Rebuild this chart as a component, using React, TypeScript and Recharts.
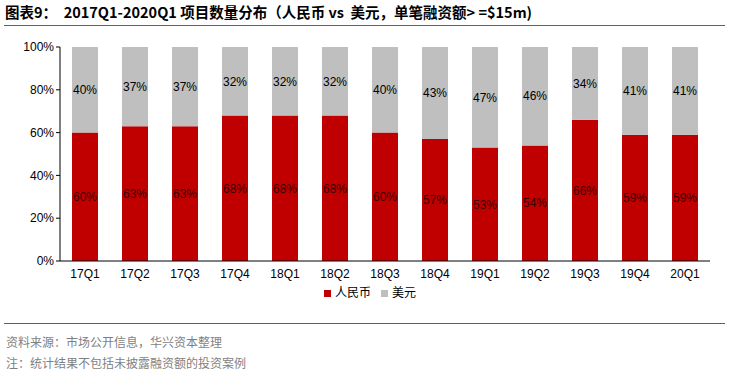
import { BarChart, Bar, XAxis, YAxis, Legend, LabelList } from "recharts";

const quarters = ["17Q1", "17Q2", "17Q3", "17Q4", "18Q1", "18Q2", "18Q3", "18Q4", "19Q1", "19Q2", "19Q3", "19Q4", "20Q1"];
const rmb = [60, 63, 63, 68, 68, 68, 60, 57, 53, 54, 66, 59, 59];
const usd = [40, 37, 37, 32, 32, 32, 40, 43, 47, 46, 34, 41, 41];
const yTicks = [0, 20, 40, 60, 80, 100];

const data = quarters.map((q, i) => ({ name: q, rmb: rmb[i], usd: usd[i] }));

const FONT = "'Liberation Sans', Arial, 'Noto Sans CJK SC', sans-serif";
const CJK = "'Noto Sans CJK SC', sans-serif";

export default function App() {
  return (
    <div style={{ position: "absolute", left: 0, top: 0, width: 729, height: 375, background: "#fff", fontFamily: FONT }}>
      <div
        style={{
          position: "absolute",
          left: 5,
          top: 2,
          fontFamily: CJK,
          fontWeight: 700,
          fontSize: 14.5,
          lineHeight: "20px",
          color: "#000",
          whiteSpace: "pre",
        }}
      >
        {"图表9：  2017Q1-2020Q1 项目数量分布（人民币 vs  美元，单笔融资额> =$15m)"}
      </div>
      <div style={{ position: "absolute", left: 4, top: 25, width: 721, height: 1, background: "#c0392b" }} />

      <div style={{ position: "absolute", left: 0, top: 0 }}>
        <BarChart width={729} height={305} data={data} margin={{ top: 47, right: 19, bottom: 2, left: 0 }} barSize={26}>
          <XAxis
            dataKey="name"
            axisLine={{ stroke: "#000" }}
            tickLine={false}
            height={22}
            tick={{ fontSize: 12, fill: "#000", fontFamily: FONT }}
          />
          <YAxis
            domain={[0, 100]}
            ticks={yTicks}
            width={60}
            axisLine={{ stroke: "#000" }}
            tickLine={{ stroke: "#000" }}
            tickSize={4}
            tickFormatter={(v) => `${v}%`}
            tick={{ fontSize: 12, fill: "#000", fontFamily: FONT }}
          />
          <Legend
            height={20}
            align="left"
            iconType="square"
            iconSize={7}
            wrapperStyle={{ fontSize: 12, fontFamily: CJK, color: "#000", left: 324, width: 120 }}
            formatter={(value) => <span style={{ color: "#000" }}>{value}</span>}
          />
          <Bar dataKey="rmb" name="人民币" stackId="a" fill="#C00000" isAnimationActive={false}>
            <LabelList dataKey="rmb" position="center" formatter={(v) => `${v}%`} style={{ fontSize: 12, fill: "#3a0000", fontFamily: FONT }} />
          </Bar>
          <Bar dataKey="usd" name="美元" stackId="a" fill="#BFBFBF" isAnimationActive={false}>
            <LabelList dataKey="usd" position="center" formatter={(v) => `${v}%`} style={{ fontSize: 12, fill: "#000", fontFamily: FONT }} />
          </Bar>
        </BarChart>
      </div>

      <div style={{ position: "absolute", left: 4, top: 323, width: 721, height: 1, background: "#c0392b" }} />
      <div style={{ position: "absolute", left: 6, top: 334, fontFamily: CJK, fontSize: 12, color: "#7f7f7f", lineHeight: "16px" }}>
        资料来源：市场公开信息，华兴资本整理
      </div>
      <div style={{ position: "absolute", left: 6, top: 355, fontFamily: CJK, fontSize: 12, color: "#7f7f7f", lineHeight: "16px" }}>
        注：统计结果不包括未披露融资额的投资案例
      </div>
    </div>
  );
}
